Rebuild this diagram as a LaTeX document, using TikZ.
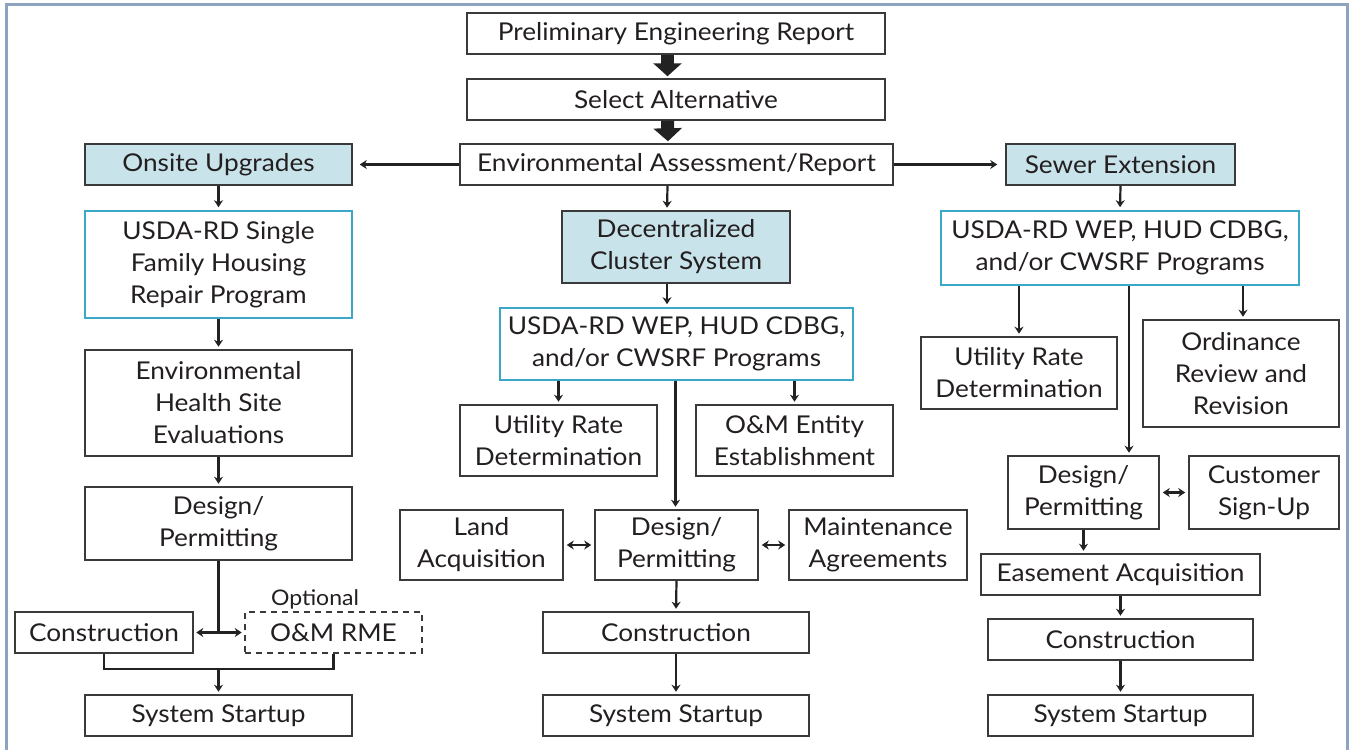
\documentclass[tikz,border=0pt]{standalone}
\usepackage{fontspec}
\setmainfont[FakeStretch=1.07]{Lato}
\usetikzlibrary{arrows.meta,calc}
\definecolor{framec}{HTML}{8EA3BF}
\definecolor{boxc}{HTML}{3A3A3A}
\definecolor{txt}{HTML}{231F20}
\definecolor{lightb}{HTML}{C9E3EA}
\definecolor{cyanb}{HTML}{3AA7C6}
\definecolor{linec}{HTML}{222222}
\newcommand{\mainf}{\fontsize{24.5}{32}\selectfont}
\tikzset{
  box/.style={draw=boxc, line width=1.5pt, fill=white, text=txt, align=center, inner sep=0pt, font=\mainf},
  bluebox/.style={box, fill=lightb},
  progbox/.style={box, draw=cyanb, line width=2.6pt},
  optbox/.style={box, dash pattern=on 6pt off 5pt},
  conn/.style={draw=linec, line width=2.2pt},
  arr/.style={conn, -{Stealth[length=7pt,width=9pt]}, shorten >=2.5pt},
  dbl/.style={conn, {Stealth[length=7pt,width=9pt]}-{Stealth[length=7pt,width=9pt]}, shorten >=3pt, shorten <=3pt},
  blockarr/.style={draw=linec, line width=13pt, -{Triangle[length=13pt,width=28pt]}, shorten >=2pt},
}
\begin{document}
\begin{tikzpicture}[x=1pt,y=-1pt]
\useasboundingbox (0,0) rectangle (1350,750);
\fill[white] (0,0) rectangle (1350,750);
\draw[framec, line width=3pt] (6,800) -- (6,4.5) -- (1347.5,4.5) -- (1347.5,800);

% center top
\node[box, minimum width=418, minimum height=41] (prelim) at (676,33.5) {Preliminary Engineering Report};
\node[box, minimum width=418, minimum height=41] (select) at (676,99.5) {Select Alternative};
\node[box, minimum width=433, minimum height=41] (env) at (676.5,164.5) {Environmental Assessment/Report};
\node[bluebox, minimum width=267, minimum height=41] (onsite) at (218.5,164.5) {Onsite Upgrades};
\node[bluebox, minimum width=229, minimum height=41] (sewer) at (1120.5,164.5) {Sewer Extension};

% left column
\node[progbox, minimum width=267, minimum height=107] (usdaL) at (218.5,264.5) {USDA-RD Single\\Family Housing\\Repair Program};
\node[box, minimum width=267, minimum height=106] (envh) at (218.5,403) {Environmental\\Health Site\\Evaluations};
\node[box, minimum width=267, minimum height=73] (designL) at (218.5,523.5) {Design/\\Permitting};
\node[box, minimum width=178, minimum height=41] (constrL) at (104,632.5) {Construction};
\node[optbox, minimum width=177, minimum height=41] (omrme) at (333.5,632.5) {O\&M RME};
\node[text=txt, font=\fontsize{21.5}{25}\selectfont, inner sep=0pt] (optional) at (315,599) {Optional};
\node[box, minimum width=267, minimum height=41] (startL) at (218.5,715.5) {System Startup};

% center column
\node[bluebox, minimum width=228, minimum height=72] (dec) at (676,247) {Decentralized\\Cluster System};
\node[progbox, minimum width=353, minimum height=72] (usdaC) at (676.5,344) {USDA-RD WEP, HUD CDBG,\\and/or CWSRF Programs};
\node[box, minimum width=197, minimum height=71] (urC) at (558.5,440.5) {Utility Rate\\Determination};
\node[box, minimum width=197, minimum height=71] (omE) at (794.5,440.5) {O\&M Entity\\Establishment};
\node[box, minimum width=163, minimum height=70] (land) at (481.5,545) {Land\\Acquisition};
\node[box, minimum width=163, minimum height=70] (designC) at (676.5,545) {Design/\\Permitting};
\node[box, minimum width=178, minimum height=70] (maint) at (878,545) {Maintenance\\Agreements};
\node[box, minimum width=266, minimum height=41] (constrC) at (676,632.5) {Construction};
\node[box, minimum width=266, minimum height=41] (startC) at (676,715.5) {System Startup};

% right column
\node[progbox, minimum width=358, minimum height=74] (usdaR) at (1120,248) {USDA-RD WEP, HUD CDBG,\\and/or CWSRF Programs};
\node[box, minimum width=196, minimum height=72] (urR) at (1019,373) {Utility Rate\\Determination};
\node[box, minimum width=196, minimum height=107] (ord) at (1241,373.5) {Ordinance\\Review and\\Revision};
\node[box, minimum width=151, minimum height=73] (designR) at (1083.5,492.5) {Design/\\Permitting};
\node[box, minimum width=150, minimum height=73] (cust) at (1264,492.5) {Customer\\Sign-Up};
\node[box, minimum width=279, minimum height=41] (ease) at (1120.5,574.5) {Easement Acquisition};
\node[box, minimum width=265, minimum height=41] (constrR) at (1120.5,639.5) {Construction};
\node[box, minimum width=265, minimum height=41] (startR) at (1120.5,715.5) {System Startup};

% connectors top
\draw[blockarr] ([xshift=-8.5pt]prelim.south) -- ([xshift=-8.5pt]select.north);
\draw[blockarr] ([xshift=-8.5pt]select.south) -- ([xshift=-8.5pt]env.north);
\draw[arr, shorten >=7pt] (env.west) -- (onsite.east);
\draw[arr, shorten >=8pt] (env.east) -- (sewer.west);

% left connectors
\draw[arr] (onsite.south) -- (usdaL.north);
\draw[arr] (usdaL.south) -- (envh.north);
\draw[arr] (envh.south) -- (designL.north);
\coordinate (jL) at (designL.south |- constrL.east);
\draw[conn] (designL.south) -- (jL);
\draw[arr] (jL) -- (constrL.east);
\draw[arr] (jL) -- (omrme.west);
\coordinate (bL) at (startL.north |- 0,669);
\draw[conn] (constrL.south) -- (constrL.south |- bL) -- (omrme.south |- bL) -- (omrme.south);
\draw[arr] (bL) -- (startL.north);

% center connectors
\draw[arr] ([xshift=-9pt]env.south) -- ([xshift=-9pt]dec.north);
\draw[arr] ([xshift=-9pt]dec.south) -- ([xshift=-9.5pt]usdaC.north);
\draw[arr] (urC.north |- usdaC.south) -- (urC.north);
\draw[arr] (omE.north |- usdaC.south) -- (omE.north);
\draw[arr] ([xshift=-1pt]usdaC.south) -- ([xshift=-1pt]designC.north);
\draw[dbl] (land.east) -- (designC.west);
\draw[dbl] (designC.east) -- (maint.west);
\draw[arr] (designC.south) -- (constrC.north);
\draw[arr] (constrC.south) -- (startC.north);

% right connectors
\draw[arr] (sewer.south) -- (usdaR.north);
\draw[arr] (urR.north |- usdaR.south) -- (urR.north);
\draw[arr] ([xshift=2pt]ord.north |- usdaR.south) -- ([xshift=2pt]ord.north);
\draw[arr] ([xshift=9pt]usdaR.south) -- ([xshift=9pt]usdaR.south |- designR.north);
\draw[dbl] (designR.east) -- (cust.west);
\draw[arr] (designR.south) -- (designR.south |- ease.north);
\draw[arr] (ease.south) -- (constrR.north);
\draw[arr] (constrR.south) -- (startR.north);
\end{tikzpicture}
\end{document}
